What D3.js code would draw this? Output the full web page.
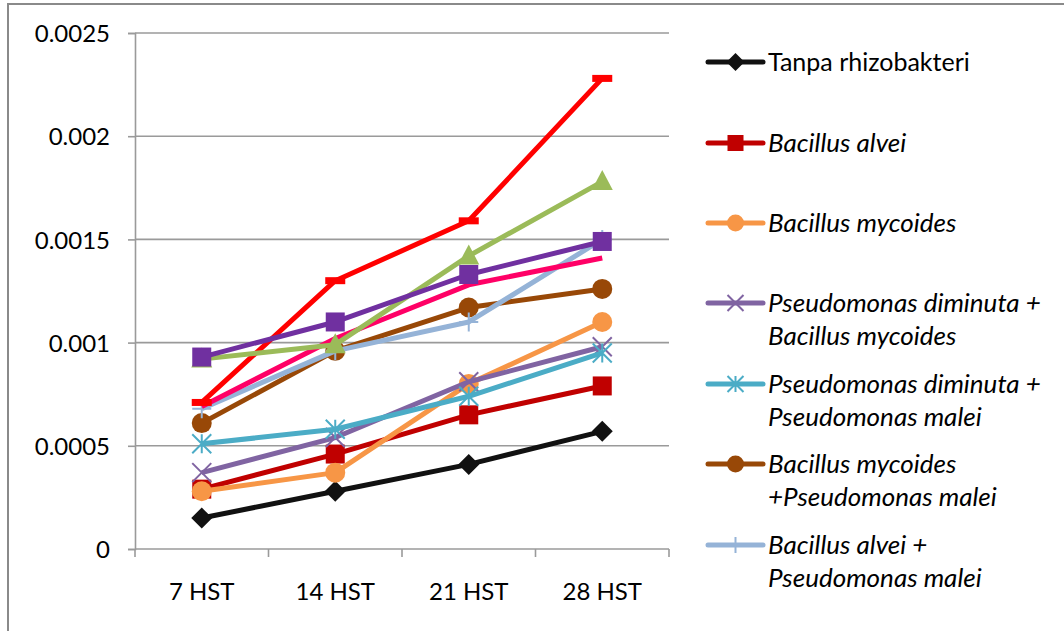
<!DOCTYPE html>
<html>
<head>
<meta charset="utf-8">
<script src="https://cdn.jsdelivr.net/npm/d3@7/dist/d3.min.js"></script>
<style>
  html, body { margin: 0; padding: 0; background: #ffffff; }
  svg { display: block; }
  text { font-family: Lato, "Open Sans", sans-serif; fill: #000; }
</style>
</head>
<body>
<svg id="chart" width="1064" height="631"></svg>
<script>
// ---- data ----
const categories = ["7 HST", "14 HST", "21 HST", "28 HST"];
const yTicks = [0, 0.0005, 0.001, 0.0015, 0.002, 0.0025];
const yTickLabels = ["0", "0.0005", "0.001", "0.0015", "0.002", "0.0025"];

const tanpaRhizobakteri = [0.00015, 0.00028, 0.00041, 0.00057];
const bacillusAlvei = [0.00029, 0.00046, 0.00065, 0.00079];
const bacillusMycoides = [0.00028, 0.00037, 0.00080, 0.00110];
const pDiminutaBMycoides = [0.00037, 0.00054, 0.00081, 0.00098];
const pDiminutaPMalei = [0.00051, 0.00058, 0.00074, 0.00095];
const bMycoidesPMalei = [0.00061, 0.00096, 0.00117, 0.00126];
const bAlveiPMalei = [0.00068, 0.00096, 0.00110, 0.00150];
const series8 = [0.00069, 0.00102, 0.00128, 0.00141];
const series9 = [0.00071, 0.00130, 0.00159, 0.00228];
const series10 = [0.00092, 0.00099, 0.00142, 0.00178];
const series11 = [0.00093, 0.00110, 0.00133, 0.00149];

const seriesNames = [
  ["Tanpa rhizobakteri"],
  ["Bacillus alvei"],
  ["Bacillus mycoides"],
  ["Pseudomonas diminuta +", "Bacillus mycoides"],
  ["Pseudomonas diminuta +", "Pseudomonas malei"],
  ["Bacillus mycoides", "+Pseudomonas malei"],
  ["Bacillus alvei +", "Pseudomonas malei"],
  null, null, null, null
];
const seriesItalic = [false, true, true, true, true, true, true, true, true, true, true];
const seriesValues = [tanpaRhizobakteri, bacillusAlvei, bacillusMycoides, pDiminutaBMycoides,
  pDiminutaPMalei, bMycoidesPMalei, bAlveiPMalei, series8, series9, series10, series11];
const seriesColors = ["#111111", "#C00000", "#F79646", "#8064A2", "#4BACC6", "#984807",
  "#95B3D7", "#FF0066", "#FF0000", "#9BBB59", "#7030A0"];
const seriesMarkers = ["diamond", "square", "circle", "x", "star", "circle", "plus",
  "none", "dash", "triangle", "square"];

// ---- layout ----
const svg = d3.select("#chart");
const plot = { left: 135, right: 669, top: 33, bottom: 549 };
const gridColor = "#9a9a9a";

// outer frame
svg.append("path")
  .attr("d", "M8,631 L8,4 L1064,4")
  .attr("fill", "none").attr("stroke", "#8a8a8a").attr("stroke-width", 2);

const x = d3.scaleBand().domain(categories).range([plot.left, plot.right]);
const xc = d => x(d) + x.bandwidth() / 2;
const y = d3.scaleLinear().domain([0, 0.0025]).range([plot.bottom, plot.top]);

// gridlines
svg.append("g").selectAll("line").data(yTicks.slice(1)).join("line")
  .attr("x1", plot.left).attr("x2", plot.right)
  .attr("y1", d => y(d)).attr("y2", d => y(d))
  .attr("stroke", gridColor).attr("stroke-width", 1.6);

// y axis
const yAxis = d3.axisLeft(y).tickValues(yTicks).tickSize(7).tickPadding(18)
  .tickFormat((d, i) => yTickLabels[i]);
const gy = svg.append("g").attr("transform", `translate(${plot.left},0)`).call(yAxis);
gy.select(".domain").attr("stroke", gridColor).attr("stroke-width", 1.6);
gy.selectAll(".tick line").attr("stroke", gridColor).attr("stroke-width", 1.6);
gy.selectAll(".tick text").attr("font-size", 24).attr("font-family", "Lato, sans-serif")
  .attr("fill", "#000").attr("dy", "0.36em");

// x axis
svg.append("line")
  .attr("x1", plot.left).attr("x2", plot.right)
  .attr("y1", y(0)).attr("y2", y(0))
  .attr("stroke", gridColor).attr("stroke-width", 1.6);
const boundaries = categories.map(c => x(c)).concat([x(categories[categories.length - 1]) + x.bandwidth()]);
svg.append("g").selectAll("line").data(boundaries).join("line")
  .attr("x1", d => d).attr("x2", d => d)
  .attr("y1", y(0)).attr("y2", y(0) + 8)
  .attr("stroke", gridColor).attr("stroke-width", 1.6);
svg.append("g").selectAll("text").data(categories).join("text")
  .attr("x", d => xc(d)).attr("y", y(0) + 51)
  .attr("text-anchor", "middle").attr("font-size", 24)
  .text(d => d);

// markers
function drawMarker(g, type, color, cx, cy, s) {
  const h = s / 2;
  switch (type) {
    case "diamond":
      g.append("path").attr("d", `M${cx},${cy - h - 1}L${cx + h + 1},${cy}L${cx},${cy + h + 1}L${cx - h - 1},${cy}Z`).attr("fill", color);
      break;
    case "square":
      g.append("rect").attr("x", cx - h).attr("y", cy - h).attr("width", s).attr("height", s).attr("fill", color);
      break;
    case "circle":
      g.append("circle").attr("cx", cx).attr("cy", cy).attr("r", h + 0.5).attr("fill", color);
      break;
    case "x":
      g.append("path").attr("d", `M${cx - h},${cy - h}L${cx + h},${cy + h}M${cx - h},${cy + h}L${cx + h},${cy - h}`)
        .attr("stroke", color).attr("stroke-width", 2).attr("fill", "none");
      break;
    case "star":
      g.append("path").attr("d", `M${cx - h},${cy - h}L${cx + h},${cy + h}M${cx - h},${cy + h}L${cx + h},${cy - h}M${cx},${cy - h}L${cx},${cy + h}`)
        .attr("stroke", color).attr("stroke-width", 2).attr("fill", "none");
      break;
    case "plus":
      g.append("path").attr("d", `M${cx - h},${cy}L${cx + h},${cy}M${cx},${cy - h}L${cx},${cy + h}`)
        .attr("stroke", color).attr("stroke-width", 2).attr("fill", "none");
      break;
    case "dash":
      g.append("rect").attr("x", cx - 10).attr("y", cy - 3.5).attr("width", 20).attr("height", 7).attr("fill", color);
      break;
    case "triangle":
      g.append("path").attr("d", `M${cx},${cy - h - 2}L${cx + h + 1},${cy + h - 1}L${cx - h - 1},${cy + h - 1}Z`).attr("fill", color);
      break;
  }
}

const line = d3.line().x((d, i) => xc(categories[i])).y(d => y(d));
const series = svg.append("g");
seriesValues.forEach((vals, si) => {
  const g = series.append("g");
  g.append("path").datum(vals).attr("d", line)
    .attr("fill", "none").attr("stroke", seriesColors[si]).attr("stroke-width", 5)
    .attr("stroke-linejoin", "round");
  vals.forEach((v, i) => drawMarker(g, seriesMarkers[si], seriesColors[si], xc(categories[i]), y(v), 19));
});

// legend
const legendX1 = 708, legendX2 = 763, legendTextX = 768;
const legendYs = [62, 143, 223, 303, 384, 464, 545];
const lineGap = 32.5;
const lg = svg.append("g");
seriesNames.forEach((name, si) => {
  if (!name) return;
  const ly = legendYs[si];
  const g = lg.append("g");
  g.append("line").attr("x1", legendX1).attr("x2", legendX2).attr("y1", ly).attr("y2", ly)
    .attr("stroke", seriesColors[si]).attr("stroke-width", 5).attr("stroke-linecap", "round");
  drawMarker(g, seriesMarkers[si], seriesColors[si], (legendX1 + legendX2) / 2, ly, 16);
  name.forEach((t, k) => {
    g.append("text").attr("x", legendTextX).attr("y", ly + k * lineGap)
      .attr("dy", "0.36em").attr("font-size", seriesItalic[si] ? 26 : 25)
      .attr("font-style", seriesItalic[si] ? "italic" : "normal")
      .text(t);
  });
});
</script>
</body>
</html>
